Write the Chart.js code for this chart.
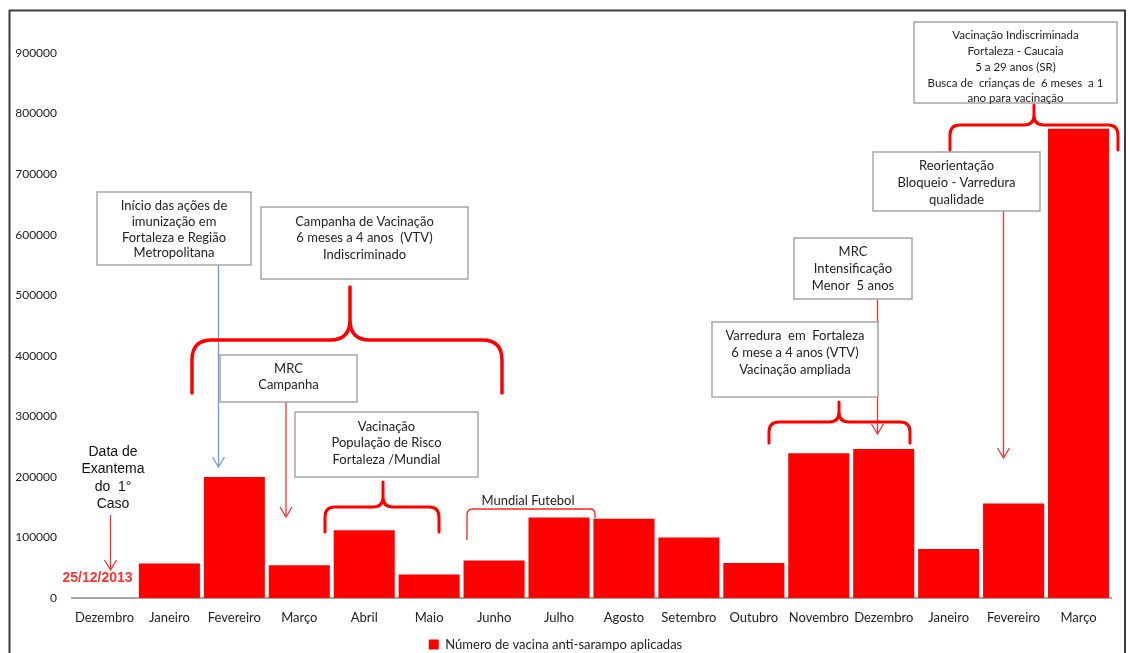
<!DOCTYPE html>
<html>
<head>
<meta charset="utf-8">
<script src="https://cdn.jsdelivr.net/npm/chart.js@4/dist/chart.umd.min.js"></script>
<style>
  html, body { margin: 0; padding: 0; background: #fff; }
  #wrap { width: 1128px; height: 653px; position: relative; }
</style>
</head>
<body>
<div id="wrap"><canvas id="grafico"></canvas></div>
<script>
const meses = ["Dezembro", "Janeiro", "Fevereiro", "Março", "Abril", "Maio", "Junho", "Julho",
  "Agosto", "Setembro", "Outubro", "Novembro", "Dezembro", "Janeiro", "Fevereiro", "Março"];
const vacinasAplicadas = [0, 57000, 200000, 54000, 112000, 39000, 62000, 133000,
  131000, 100000, 58000, 239000, 246000, 81000, 156000, 775000];
const eixoY = { min: 0, max: 900000, passo: 100000 };
const nomeSerie = "Número de vacina anti-sarampo aplicadas";

const FONTE = "Lato, 'Noto Sans', sans-serif";
const VERMELHO = "#ff0000";

// caixas de texto (pixels da imagem)
const caixas = [
  { x1: 97, y1: 192, x2: 251, y2: 265, yl: [206, 222, 238, 253], linhas: ["Início das ações de", "imunização em", "Fortaleza e Região", "Metropolitana"] },
  { x1: 261, y1: 207, x2: 468, y2: 279, yl: [222, 238, 255], linhas: ["Campanha de Vacinação", "6 meses a 4 anos  (VTV)", "Indiscriminado"] },
  { x1: 220, y1: 355, x2: 357, y2: 402, yl: [369, 385], linhas: ["MRC", "Campanha"] },
  { x1: 295, y1: 412, x2: 478, y2: 477, yl: [427, 443, 460], linhas: ["Vacinação", "População de Risco", "Fortaleza /Mundial"] },
  { x1: 712, y1: 322, x2: 878, y2: 397, yl: [336, 353, 370], linhas: ["Varredura  em  Fortaleza", "6 mese a 4 anos (VTV)", "Vacinação ampliada"] },
  { x1: 794, y1: 238, x2: 912, y2: 299, yl: [252, 269, 286], linhas: ["MRC", "Intensificação", "Menor  5 anos"] },
  { x1: 873, y1: 152, x2: 1040, y2: 211, yl: [166, 183, 200], linhas: ["Reorientação", "Bloqueio - Varredura", "qualidade"] },
  { x1: 914, y1: 22, x2: 1117, y2: 103, yl: [35, 51.5, 67.5, 83, 98], linhas: ["Vacinação Indiscriminada", "Fortaleza - Caucaia", "5 a 29 anos (SR)", "Busca de  crianças de  6 meses  a 1", "ano para vacinação"], tam: 11.5 }
];

const chaves = [
  { x1: 192, x2: 502, xm: 350, y: 340, topo: 287, fim: 393, r: 20, w: 3.5 },
  { x1: 325, x2: 439, xm: 383, y: 507, topo: 482, fim: 532, r: 10, w: 3 },
  { x1: 769, x2: 910, xm: 839, y: 422, topo: 402, fim: 443, r: 10, w: 3 },
  { x1: 950, x2: 1118, xm: 1034, y: 125, topo: 105, fim: 150, r: 10, w: 3 }
];

const setas = [
  { x: 218.5, y1: 265, y2: 467, cor: "#6f9bd3" },
  { x: 286, y1: 402, y2: 517, cor: "#ff3030" },
  { x: 110.5, y1: 515, y2: 570, cor: "#ff3030" },
  { x: 877.5, y1: 299, y2: 434, cor: "#ff3030" },
  { x: 1003.5, y1: 211, y2: 458, cor: "#ff3030" }
];

function desenhaChave(ctx, c) {
  ctx.save();
  ctx.strokeStyle = VERMELHO;
  ctx.lineWidth = c.w;
  ctx.lineCap = "round";
  ctx.beginPath();
  ctx.moveTo(c.x1, c.fim);
  ctx.lineTo(c.x1, c.y + c.r);
  ctx.quadraticCurveTo(c.x1, c.y, c.x1 + c.r, c.y);
  ctx.lineTo(c.xm - c.r, c.y);
  ctx.quadraticCurveTo(c.xm, c.y, c.xm, c.y - c.r);
  ctx.lineTo(c.xm, c.topo);
  ctx.moveTo(c.xm, c.y - c.r);
  ctx.quadraticCurveTo(c.xm, c.y, c.xm + c.r, c.y);
  ctx.lineTo(c.x2 - c.r, c.y);
  ctx.quadraticCurveTo(c.x2, c.y, c.x2, c.y + c.r);
  ctx.lineTo(c.x2, c.fim);
  ctx.stroke();
  ctx.restore();
}

function desenhaSeta(ctx, s) {
  ctx.save();
  ctx.strokeStyle = s.cor;
  ctx.lineWidth = 1.3;
  ctx.beginPath();
  ctx.moveTo(s.x, s.y1);
  ctx.lineTo(s.x, s.y2);
  ctx.moveTo(s.x - 6, s.y2 - 10);
  ctx.lineTo(s.x, s.y2);
  ctx.lineTo(s.x + 6, s.y2 - 10);
  ctx.stroke();
  ctx.restore();
}

const anotacoes = {
  id: "anotacoes",
  afterDraw(chart) {
    const ctx = chart.ctx;
    ctx.save();
    // moldura
    ctx.strokeStyle = "#3c3c3c";
    ctx.lineWidth = 2;
    ctx.strokeRect(9.5, 10.5, 1115.5, 660);

    setas.forEach(s => desenhaSeta(ctx, s));

    caixas.forEach(b => {
      ctx.fillStyle = "#fff";
      ctx.fillRect(b.x1, b.y1, b.x2 - b.x1, b.y2 - b.y1);
      ctx.strokeStyle = "#a6a6a6";
      ctx.lineWidth = 1.5;
      ctx.strokeRect(b.x1, b.y1, b.x2 - b.x1, b.y2 - b.y1);
      ctx.fillStyle = "#222";
      ctx.font = (b.tam || 13) + "px " + FONTE;
      ctx.textAlign = "center";
      ctx.textBaseline = "middle";
      const cx = (b.x1 + b.x2) / 2;
      b.linhas.forEach((t, i) => ctx.fillText(t, cx, b.yl[i]));
    });

    chaves.forEach(c => desenhaChave(ctx, c));

    // Mundial Futebol
    ctx.strokeStyle = "#ff2020";
    ctx.lineWidth = 1.3;
    ctx.beginPath();
    ctx.moveTo(467, 540);
    ctx.lineTo(467, 515);
    ctx.quadraticCurveTo(467, 509, 473, 509);
    ctx.lineTo(590, 509);
    ctx.quadraticCurveTo(595, 509, 595, 514);
    ctx.lineTo(595, 518);
    ctx.stroke();
    ctx.fillStyle = "#222";
    ctx.font = "13px " + FONTE;
    ctx.textAlign = "center";
    ctx.textBaseline = "middle";
    ctx.fillText("Mundial Futebol", 528, 501);

    // Data de Exantema do 1º caso
    ctx.font = "14px 'Liberation Sans', Arial, sans-serif";
    ctx.fillStyle = "#111";
    ["Data de", "Exantema", "do  1°", "Caso"].forEach((t, i) => ctx.fillText(t, 113, 452 + i * 17.4));
    ctx.font = "bold 14px 'Liberation Sans', Arial, sans-serif";
    ctx.fillStyle = "#ff3333";
    ctx.fillText("25/12/2013", 97.5, 578);
    ctx.restore();
  }
};

new Chart(document.getElementById("grafico"), {
  type: "bar",
  data: {
    labels: meses,
    datasets: [{
      label: nomeSerie,
      data: vacinasAplicadas,
      backgroundColor: VERMELHO,
      borderWidth: 0,
      barPercentage: 0.94,
      categoryPercentage: 1
    }]
  },
  options: {
    responsive: true,
    maintainAspectRatio: false,
    animation: false,
    layout: { padding: { top: 53, right: 17, bottom: -8, left: 0 } },
    plugins: {
      tooltip: { enabled: false },
      legend: {
        position: "bottom",
        labels: {
          boxWidth: 10,
          boxHeight: 10,
          padding: 1,
          color: "#222",
          font: { family: FONTE, size: 13 }
        }
      }
    },
    scales: {
      x: {
        grid: { display: false, drawTicks: false },
        border: { display: true, color: "#a6a6a6", width: 2 },
        ticks: { color: "#222", padding: 12, maxRotation: 0, autoSkip: false, font: { family: FONTE, size: 13 } },
        afterFit(scale) { scale.height = 39; }
      },
      y: {
        min: eixoY.min,
        max: eixoY.max,
        grid: { display: false, drawTicks: false },
        border: { display: false },
        ticks: {
          stepSize: eixoY.passo,
          padding: 15,
          color: "#222",
          font: { family: FONTE, size: 12 },
          callback: v => String(v)
        },
        afterFit(scale) { scale.width = 72; }
      }
    }
  },
  plugins: [anotacoes]
});
</script>
</body>
</html>
